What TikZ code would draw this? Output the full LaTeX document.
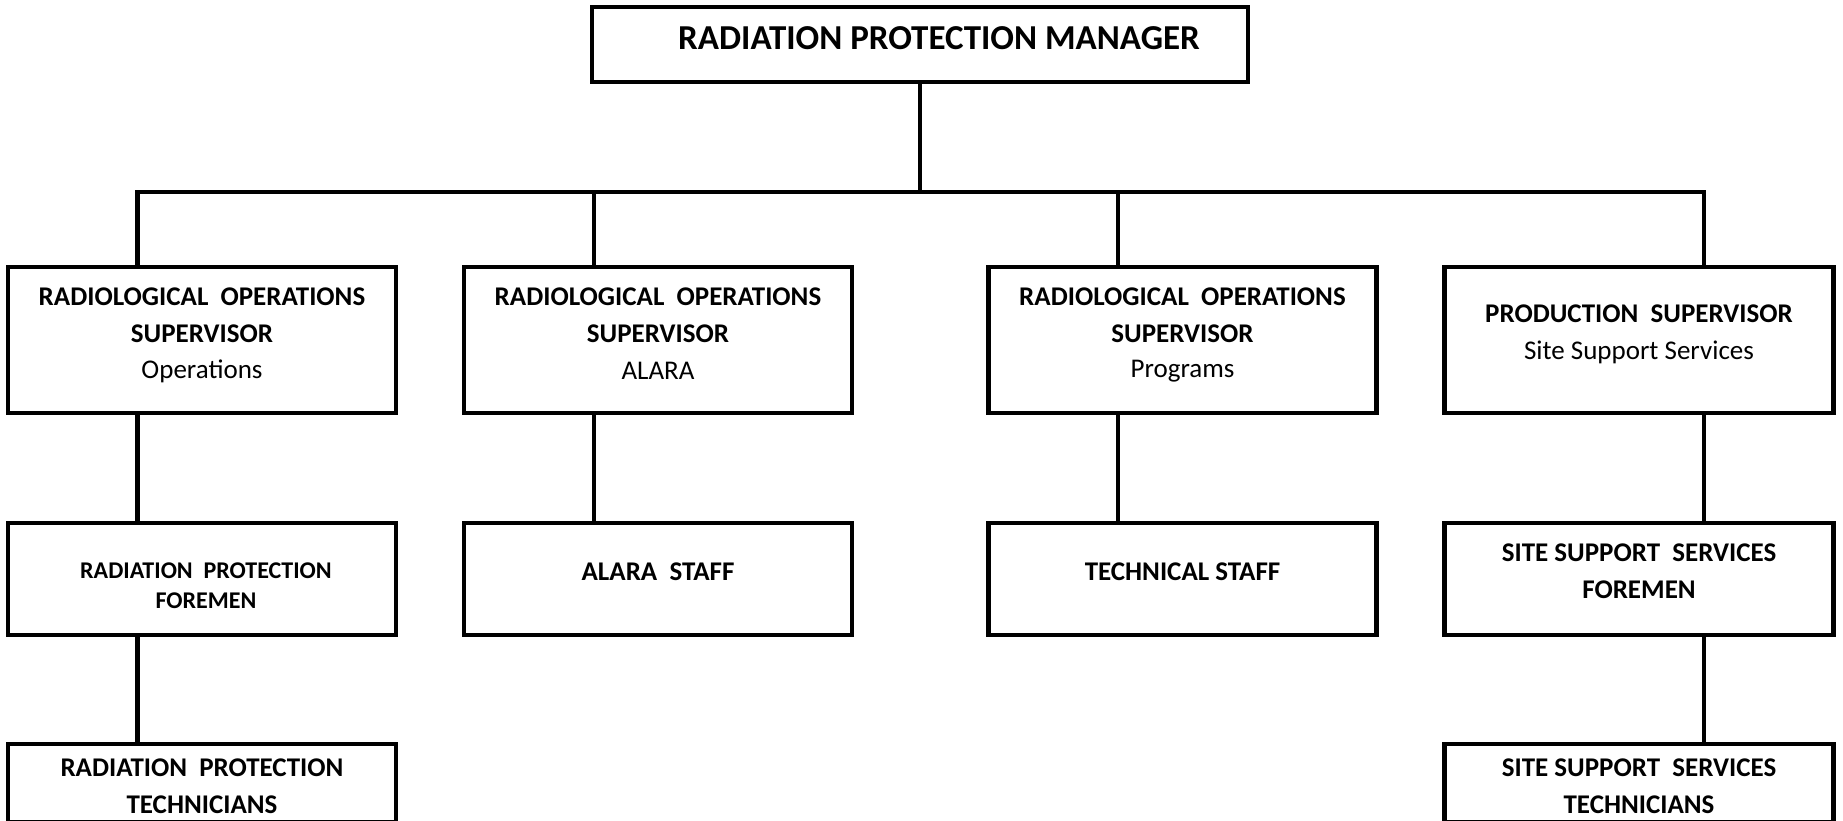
\documentclass[tikz,border=0pt]{standalone}
\usepackage{fontspec}
\setmainfont{Carlito}
\begin{document}
\begin{tikzpicture}[x=1pt,y=-1pt,
  orgbox/.style={draw=black,line width=4.8pt,inner sep=0pt},
  conn/.style={draw=black,line width=4.2pt},
  lbl/.style={align=center,inner sep=0pt,font=\bfseries\fontsize{27}{37}\selectfont},
  sublbl/.style={align=center,inner sep=0pt,font=\fontsize{27}{37}\selectfont}]
\useasboundingbox (0,0) rectangle (1843,820);
\clip (0,0) rectangle (1843,820);
% top box
\node[orgbox,minimum width=656pt,minimum height=75pt] (mgr) at (920,44.5) {};
% level 2
\node[orgbox,minimum width=388pt,minimum height=146pt] (s1) at (202,340) {};
\node[orgbox,minimum width=388pt,minimum height=146pt] (s2) at (658,340) {};
\node[orgbox,minimum width=388pt,minimum height=146pt] (s3) at (1182.5,340) {};
\node[orgbox,minimum width=389pt,minimum height=146pt] (s4) at (1639,340) {};
% level 3
\node[orgbox,minimum width=388pt,minimum height=112pt] (f1) at (202,579) {};
\node[orgbox,minimum width=388pt,minimum height=112pt] (f2) at (658,579) {};
\node[orgbox,minimum width=388pt,minimum height=112pt] (f3) at (1182.5,579) {};
\node[orgbox,minimum width=389pt,minimum height=112pt] (f4) at (1639,579) {};
% level 4
\node[orgbox,minimum width=388pt,minimum height=78pt] (t1) at (202,783) {};
\node[orgbox,minimum width=389pt,minimum height=78pt] (t4) at (1639,783) {};
% bus
\coordinate (bus) at (920,192);
\coordinate (b1) at (137.5,192);
\coordinate (b2) at (593.6,192);
\coordinate (b3) at (1117.8,192);
\coordinate (b4) at (1704.3,192);
\draw[conn] (mgr.south) -- (bus);
\draw[conn,line cap=rect] (b1) -- (b4);
\draw[conn] (b1) -- (b1 |- s1.north);
\draw[conn] (b2) -- (b2 |- s2.north);
\draw[conn] (b3) -- (b3 |- s3.north);
\draw[conn] (b4) -- (b4 |- s4.north);
\draw[conn] (b1 |- s1.south) -- (b1 |- f1.north);
\draw[conn] (b1 |- f1.south) -- (b1 |- t1.north);
\draw[conn] (b2 |- s2.south) -- (b2 |- f2.north);
\draw[conn] (b3 |- s3.south) -- (b3 |- f3.north);
\draw[conn] (b4 |- s4.south) -- (b4 |- f4.north);
\draw[conn] (b4 |- f4.south) -- (b4 |- t4.north);
% texts
\node[lbl,font=\bfseries\fontsize{35}{42}\selectfont] (mgrT) at (939,38) {RADIATION PROTECTION MANAGER};
\node[lbl] (s1a) at (202,315) {RADIOLOGICAL\ \ OPERATIONS\\SUPERVISOR};
\node[sublbl] (s1b) at (202,371) {Operations};
\node[lbl] (s2a) at (658,315) {RADIOLOGICAL\ \ OPERATIONS\\SUPERVISOR};
\node[sublbl] (s2b) at (658,371) {ALARA};
\node[lbl] (s3a) at (1182.5,315) {RADIOLOGICAL\ \ OPERATIONS\\SUPERVISOR};
\node[sublbl] (s3b) at (1182.5,371) {Programs};
\node[lbl] (s4a) at (1639,314) {PRODUCTION\ \ SUPERVISOR};
\node[sublbl] (s4b) at (1639,352) {Site Support Services};
\node[lbl,font=\bfseries\fontsize{24}{30}\selectfont] (f1t) at (206,586) {RADIATION\ \ PROTECTION\\FOREMEN};
\node[lbl] (f2t) at (658,572) {ALARA\ \ STAFF};
\node[lbl] (f3t) at (1182.5,572) {TECHNICAL STAFF};
\node[lbl] (f4t) at (1639,571) {SITE SUPPORT\ \ SERVICES\\FOREMEN};
\node[lbl] (t1t) at (202,786) {RADIATION\ \ PROTECTION\\TECHNICIANS};
\node[lbl] (t4t) at (1639,786) {SITE SUPPORT\ \ SERVICES\\TECHNICIANS};
\end{tikzpicture}
\end{document}
